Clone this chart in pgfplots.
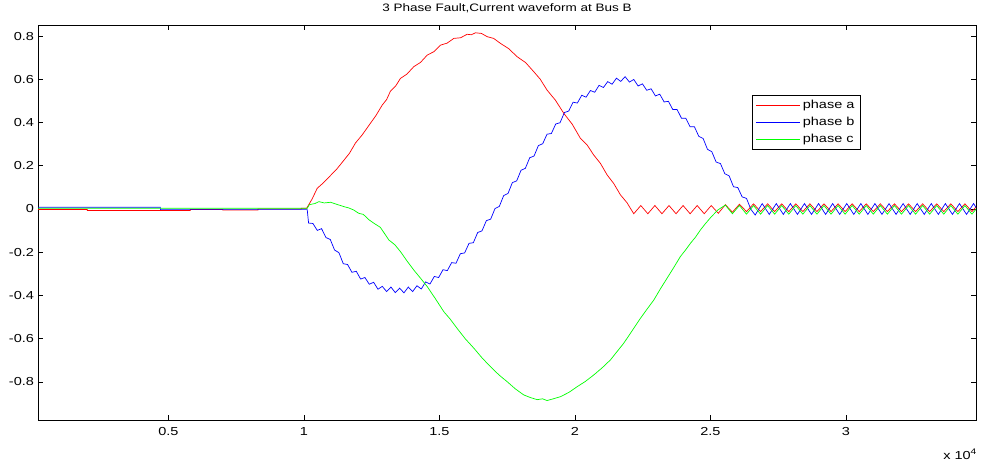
\documentclass[border=0pt]{standalone}
\usepackage{fontspec}
\setmainfont{Liberation Sans}[FakeStretch=1.25]
\usepackage{pgfplots}
\pgfplotsset{compat=1.18}
\newcommand{\chartfont}{\fontsize{11.6pt}{13pt}\selectfont}
\begin{document}
\chartfont
\begin{tikzpicture}
\path[use as bounding box] (-38pt,-43pt) rectangle (943pt,420pt);
\begin{axis}[
  at={(0pt,0pt)}, anchor=south west,
  width=938pt, height=395pt, scale only axis,
  xmin=185, xmax=34800, ymin=-0.976, ymax=0.851,
  scaled x ticks=false, scaled y ticks=false,
  xtick={5000,10000,15000,20000,25000,30000},
  xticklabels={0.5,1,1.5,2,2.5,3},
  ytick={-0.8,-0.6,-0.4,-0.2,0,0.2,0.4,0.6,0.8},
  yticklabels={-0.8,-0.6,-0.4,-0.2,0,0.2,0.4,0.6,0.8},
  tick align=inside, major tick length=5pt,
  tick style={black, line width=0.5pt},
  axis line style={black, line width=0.8pt},
  ticklabel style={font=\chartfont},
  xticklabel style={yshift=-3pt},
  title={3 Phase Fault,Current waveform at Bus B},
  title style={at={(axis description cs:0.5,1)}, anchor=base, yshift=7pt, font=\fontsize{10.8pt}{13pt}\selectfont},
  legend style={at={(rel axis cs:0.761,0.823)}, anchor=north west, draw=black, line width=0.6pt,
    font=\chartfont, inner xsep=4pt, inner ysep=3pt, row sep=3pt},
  legend cell align=left,
  legend image code/.code={\draw[#1, line width=0.7pt] (0pt,0pt) -- (44pt,0pt);},
  every axis plot/.append style={line width=0.7pt},
]
\addplot[color=red] coordinates {
(185,-0.002) (2000,-0.002) (2001,-0.007) (5800,-0.007) (5801,-0.002) (7000,-0.002) (7001,-0.005) (8300,-0.005) (8301,0.0) (9900,0.0) (9901,0.003) (10100,0.003)
(10130,0.01) (10300,0.046) (10490,0.096) (10700,0.119) (10980,0.155) (11200,0.183) (11470,0.225) (11680,0.258)
(11900,0.305) (12150,0.343) (12450,0.396) (12650,0.431) (12890,0.481) (13050,0.506) (13190,0.545) (13380,0.568)
(13560,0.604) (13800,0.624) (14050,0.658) (14300,0.678) (14550,0.712) (14800,0.728) (15040,0.758) (15280,0.767)
(15530,0.789) (15780,0.792) (16020,0.808) (16180,0.806) (16330,0.815) (16550,0.812) (16760,0.797) (17000,0.789)
(17250,0.766) (17550,0.742) (17870,0.704) (18180,0.677) (18480,0.635) (18720,0.6) (18970,0.55) (19280,0.503)
(19590,0.442) (19900,0.392) (20200,0.327) (20450,0.296) (20690,0.25) (20940,0.211) (21190,0.157) (21430,0.118)
(21680,0.065) (21920,0.029) (22170,-0.022)
(22430,0.016) (22690,-0.022) (22950,0.016) (23210,-0.022) (23470,0.016) (23730,-0.022) (23990,0.016) (24250,-0.022)
(24510,0.016) (24770,-0.022) (25030,0.016) (25290,-0.02) (25550,0.02) (25810,-0.015) (26070,0.022) (26330,-0.012)
(26590,0.024) (26850,-0.012) (27110,0.024) (27370,-0.012) (27630,0.024) (27890,-0.012) (28150,0.024) (28410,-0.012)
(28670,0.024) (28930,-0.012) (29190,0.024) (29450,-0.012) (29710,0.024) (29970,-0.012) (30230,0.024) (30490,-0.012)
(30750,0.024) (31010,-0.012) (31270,0.024) (31530,-0.012) (31790,0.024) (32050,-0.012) (32310,0.024) (32570,-0.012)
(32830,0.024) (33090,-0.012) (33350,0.024) (33610,-0.012) (33870,0.024) (34130,-0.012) (34390,0.024) (34650,-0.012) (34910,0.024)
};
\addlegendentry{phase a}
\addplot[color=blue] coordinates {
(185,0.008) (4700,0.008) (4701,-0.003) (10120,-0.003) (10170,-0.065)
(10330,-0.067) (10490,-0.099) (10650,-0.091) (10810,-0.132) (10970,-0.141) (11130,-0.190) (11290,-0.202) (11450,-0.253)
(11610,-0.257) (11770,-0.293) (11930,-0.288) (12090,-0.324) (12250,-0.317) (12410,-0.348) (12570,-0.339) (12730,-0.371)
(12890,-0.358) (13050,-0.382) (13210,-0.361) (13370,-0.387) (13530,-0.366) (13690,-0.388) (13850,-0.361) (14010,-0.382)
(14170,-0.355) (14330,-0.370) (14490,-0.337) (14650,-0.347) (14810,-0.312) (14970,-0.317) (15130,-0.281) (15290,-0.285)
(15450,-0.248) (15610,-0.251) (15770,-0.207) (15930,-0.203) (16090,-0.159) (16250,-0.156) (16410,-0.109) (16570,-0.101)
(16730,-0.054) (16890,-0.047) (17050,0.002) (17210,0.012) (17370,0.062) (17530,0.072) (17690,0.122) (17850,0.130)
(18010,0.179) (18170,0.188) (18330,0.237) (18490,0.245) (18650,0.293) (18810,0.302) (18970,0.346) (19130,0.349)
(19290,0.393) (19450,0.399) (19610,0.446) (19770,0.453) (19930,0.494) (20090,0.490) (20250,0.526) (20410,0.517)
(20570,0.548) (20730,0.540) (20890,0.572) (21050,0.562) (21210,0.589) (21370,0.577) (21530,0.605) (21690,0.590)
(21850,0.612) (22010,0.587) (22170,0.599) (22330,0.569) (22490,0.579) (22650,0.549) (22810,0.556) (22970,0.523)
(23130,0.531) (23290,0.495) (23450,0.498) (23610,0.460) (23770,0.460) (23930,0.420) (24090,0.420) (24250,0.380)
(24410,0.380) (24570,0.336) (24730,0.326) (24890,0.276) (25050,0.265) (25210,0.217) (25370,0.210) (25530,0.163)
(25690,0.153) (25850,0.103) (26010,0.099) (26170,0.056) (26330,0.049) (26490,-0.001) (26650,-0.028)
(26910,0.025) (27170,-0.025) (27430,0.025) (27690,-0.025) (27950,0.025) (28210,-0.025) (28470,0.025) (28730,-0.025)
(28990,0.025) (29250,-0.025) (29510,0.025) (29770,-0.025) (30030,0.025) (30290,-0.025) (30550,0.025) (30810,-0.025)
(31070,0.025) (31330,-0.025) (31590,0.025) (31850,-0.025) (32110,0.025) (32370,-0.025) (32630,0.025) (32890,-0.025)
(33150,0.025) (33410,-0.025) (33670,0.025) (33930,-0.025) (34190,0.025) (34450,-0.025) (34710,0.025) (34970,-0.025)
};
\addlegendentry{phase b}
\addplot[color=green] coordinates {
(185,0.003) (10120,0.003)
(10200,0.02) (10400,0.025) (10550,0.034) (10750,0.028) (10980,0.031) (11200,0.022) (11470,0.011) (11650,0.005)
(11840,-0.005) (12020,-0.02) (12190,-0.025) (12400,-0.05) (12580,-0.066) (12820,-0.085) (13130,-0.143) (13350,-0.165)
(13560,-0.197) (13800,-0.24) (14050,-0.282) (14300,-0.32) (14550,-0.359) (14850,-0.415) (15160,-0.475) (15400,-0.51)
(15650,-0.552) (15950,-0.6) (16270,-0.644) (16580,-0.69) (16880,-0.729) (17200,-0.768) (17500,-0.799) (17800,-0.832)
(18110,-0.86) (18350,-0.872) (18610,-0.882) (18800,-0.878) (18970,-0.886) (19200,-0.878) (19470,-0.868) (19780,-0.848)
(20080,-0.822) (20380,-0.798) (20690,-0.768) (21000,-0.735) (21310,-0.698) (21550,-0.66) (21800,-0.621) (22100,-0.565)
(22420,-0.505) (22650,-0.465) (22910,-0.421) (23150,-0.37) (23400,-0.32) (23650,-0.27) (23890,-0.22) (24080,-0.19)
(24260,-0.159) (24450,-0.13) (24630,-0.097) (24800,-0.07) (25030,-0.036) (25290,-0.003)
(25550,0.018) (25810,-0.022) (26070,0.016) (26330,-0.024) (26590,0.016) (26850,-0.024) (27110,0.016) (27370,-0.024)
(27630,0.016) (27890,-0.024) (28150,0.016) (28410,-0.024) (28670,0.016) (28930,-0.024) (29190,0.016) (29450,-0.024)
(29710,0.016) (29970,-0.024) (30230,0.016) (30490,-0.024) (30750,0.016) (31010,-0.024) (31270,0.016) (31530,-0.024)
(31790,0.016) (32050,-0.024) (32310,0.016) (32570,-0.024) (32830,0.016) (33090,-0.024) (33350,0.016) (33610,-0.024)
(33870,0.016) (34130,-0.024) (34390,0.016) (34650,-0.024) (34910,0.016)
};
\addlegendentry{phase c}
\end{axis}
\node[anchor=base east, inner sep=0pt, font=\chartfont] at (current axis.south east) [xshift=1pt, yshift=-39pt] {x 10\textsuperscript{4}};
\end{tikzpicture}
\end{document}
